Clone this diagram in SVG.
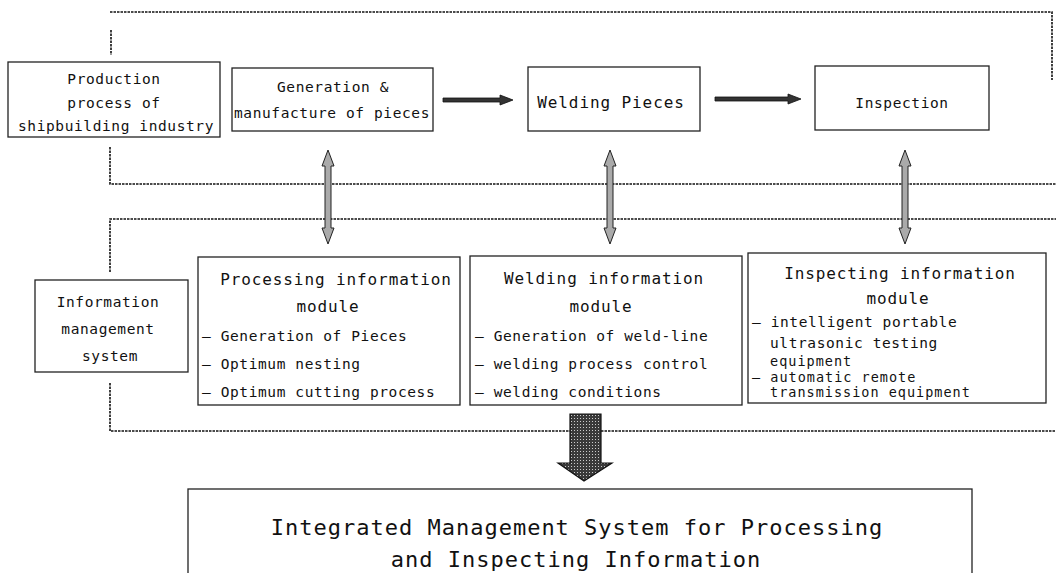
<svg xmlns="http://www.w3.org/2000/svg" width="1056" height="573" viewBox="0 0 1056 573">
<style>
.box{fill:#fff;stroke:#222;stroke-width:1.3}
.dot{fill:none;stroke:#111;stroke-width:1.6;stroke-dasharray:2.5 1}
.t{font-family:"DejaVu Sans Mono","Liberation Mono",monospace;font-size:14.5px;fill:#111;letter-spacing:0.6px}
.s{font-family:"DejaVu Sans Mono","Liberation Mono",monospace;font-size:13.5px;fill:#111;letter-spacing:1px}
.h{font-family:"DejaVu Sans Mono","Liberation Mono",monospace;font-size:16px;fill:#111;letter-spacing:0.9px}
.b{font-family:"DejaVu Sans Mono","Liberation Mono",monospace;font-size:22px;fill:#111;letter-spacing:1px}
.m{text-anchor:middle}
.arr{fill:#333;stroke:#111;stroke-width:0.8}
.darr{fill:#aaa;stroke:#222;stroke-width:1}
</style>
<defs>
<pattern id="tex" width="3" height="3" patternUnits="userSpaceOnUse">
<rect width="3" height="3" fill="#3a3a3a"/>
<rect x="1" y="1" width="1" height="1" fill="#ccc"/>
</pattern>
</defs>
<rect width="1056" height="573" fill="#fff"/>

<g id="connectors">
<path class="dot" d="M110,12 H1052 V80"/>
<path class="dot" d="M111,30 V55"/>
<path class="dot" d="M110,147 V184 H1056"/>
<path class="dot" d="M110,272 V219 H1056"/>
<path class="dot" d="M110,383 V431 H1056"/>
<polygon class="arr" points="443,98 500,98 500,95 513,100 500,105 500,102 443,102"/>
<polygon class="arr" points="715,97 788,97 788,94 801,99 788,104 788,101 715,101"/>
<polygon class="darr" points="328,150 334,166 331,166 331,228 334,228 328,244 322,228 325,228 325,166 322,166"/>
<polygon class="darr" points="610,150 616,166 613,166 613,228 616,228 610,244 604,228 607,228 607,166 604,166"/>
<polygon class="darr" points="905,150 911,166 908,166 908,228 911,228 905,244 899,228 902,228 902,166 899,166"/>
<polygon points="570,414 601,414 601,463 612,463 584,481 558,463 570,463" fill="url(#tex)" stroke="#111" stroke-width="1.2"/>
</g>

<g id="node-production">
<rect class="box" x="8" y="62" width="212" height="75"/>
<text class="t m" x="114" y="84">Production</text>
<text class="t m" x="114" y="108">process of</text>
<text class="t m" x="116" y="131">shipbuilding industry</text>
</g>

<g id="node-generation">
<rect class="box" x="232" y="68" width="201" height="63"/>
<text class="t m" x="333" y="92">Generation &amp;</text>
<text class="t m" x="332" y="118">manufacture of pieces</text>
</g>

<g id="node-welding-pieces">
<rect class="box" x="528" y="67" width="172" height="64"/>
<text class="h m" x="611" y="108">Welding Pieces</text>
</g>

<g id="node-inspection">
<rect class="box" x="815" y="66" width="174" height="64"/>
<text class="t m" x="902" y="108">Inspection</text>
</g>

<g id="node-info-mgmt">
<rect class="box" x="35" y="280" width="153" height="92"/>
<text class="t m" x="108" y="307">Information</text>
<text class="t m" x="108" y="334">management</text>
<text class="t m" x="110" y="361">system</text>
</g>

<g id="node-processing">
<rect class="box" x="198" y="257" width="262" height="148"/>
<text class="h m" x="336" y="285">Processing information</text>
<text class="h m" x="328" y="312">module</text>
<text class="t" x="202" y="341">– Generation of Pieces</text>
<text class="t" x="202" y="369">– Optimum nesting</text>
<text class="t" x="202" y="397">– Optimum cutting process</text>
</g>

<g id="node-welding-info">
<rect class="box" x="470" y="256" width="272" height="149"/>
<text class="h m" x="604" y="284">Welding information</text>
<text class="h m" x="601" y="312">module</text>
<text class="t" x="475" y="341">– Generation of weld-line</text>
<text class="t" x="475" y="369">– welding process control</text>
<text class="t" x="475" y="397">– welding conditions</text>
</g>

<g id="node-inspecting-info">
<rect class="box" x="748" y="253" width="298" height="150"/>
<text class="h m" x="900" y="279">Inspecting information</text>
<text class="h m" x="898" y="304">module</text>
<text class="t" x="752" y="327">– intelligent portable</text>
<text class="t" x="770" y="348">ultrasonic testing</text>
<text class="s" x="770" y="366">equipment</text>
<text class="s" x="752" y="382">– automatic remote</text>
<text class="s" x="770" y="397">transmission equipment</text>
</g>

<g id="node-integrated">
<rect class="box" x="188" y="489" width="784" height="100"/>
<text class="b m" x="577" y="535">Integrated Management System for Processing</text>
<text class="b m" x="576" y="567">and Inspecting Information</text>
</g>
</svg>
